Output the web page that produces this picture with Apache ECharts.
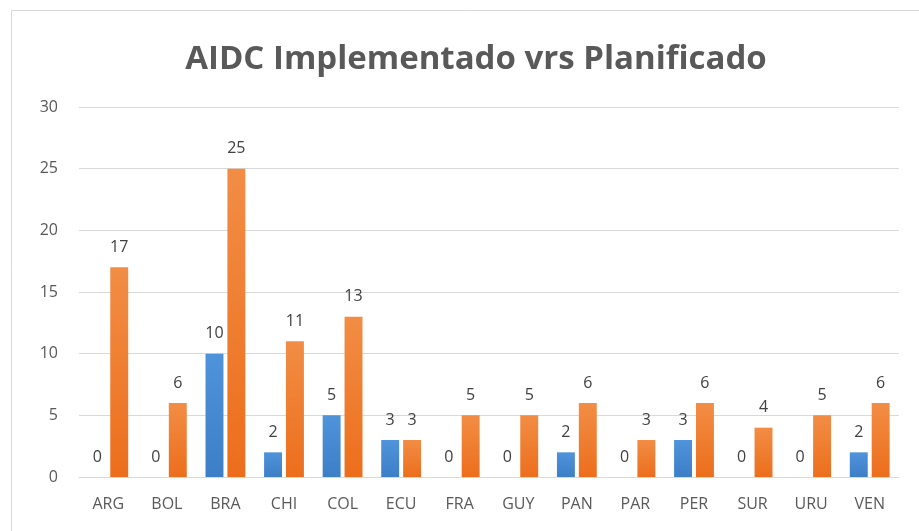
<!DOCTYPE html>
<html>
<head>
<meta charset="utf-8">
<script src="https://cdn.jsdelivr.net/npm/echarts@6/dist/echarts.min.js"></script>
<style>html,body{margin:0;padding:0;background:#fff;}#c{width:919px;height:531px;}</style>
</head>
<body>
<div id="c"></div>
<script>
const categories = ['ARG','BOL','BRA','CHI','COL','ECU','FRA','GUY','PAN','PAR','PER','SUR','URU','VEN'];
const implementado = [0,0,10,2,5,3,0,0,2,0,3,0,0,2];
const planificado = [17,6,25,11,13,3,5,5,6,3,6,4,5,6];
const yTicks = {min:0, max:30, interval:5};

const chart = echarts.init(document.getElementById('c'));
const font = '"Open Sans", "Liberation Sans", sans-serif';
function grad(top, bottom){
  return new echarts.graphic.LinearGradient(0,0,0,1,[{offset:0,color:top},{offset:1,color:bottom}]);
}
const labelCfg = {show:true, position:'top', distance:12, color:'#404040', fontSize:16, fontFamily:font};
chart.setOption({
  animation:false,
  graphic:[{type:'rect', shape:{x:11.5,y:10.5,width:940,height:560}, style:{fill:'none', stroke:'#d9d9d9', lineWidth:1}, silent:true}],
  title:{text:'AIDC Implementado vrs Planificado', left:471, top:38, textAlign:'center',
    textStyle:{fontFamily:font, fontSize:33, fontWeight:'bold', color:'#595959'}},
  grid:{left:79, right:20, top:107, bottom:54},
  xAxis:{type:'category', data:categories,
    axisLine:{lineStyle:{color:'#d9d9d9'}}, axisTick:{show:false},
    axisLabel:{color:'#595959', fontSize:16, fontFamily:font, margin:19}},
  yAxis:{type:'value', min:yTicks.min, max:yTicks.max, interval:yTicks.interval,
    axisLine:{show:false}, axisTick:{show:false},
    splitLine:{lineStyle:{color:'#d9d9d9'}},
    axisLabel:{color:'#595959', fontSize:16, fontFamily:font, margin:21}},
  series:[
    {name:'Implementado', type:'bar', data:implementado, barGap:'22%', barCategoryGap:'32%',
      itemStyle:{color:grad('#4f93db','#3d7fc6')}, label:labelCfg},
    {name:'Planificado', type:'bar', data:planificado,
      itemStyle:{color:grad('#f28d45','#ec6e1c')}, label:labelCfg}
  ]
});
</script>
</body>
</html>
